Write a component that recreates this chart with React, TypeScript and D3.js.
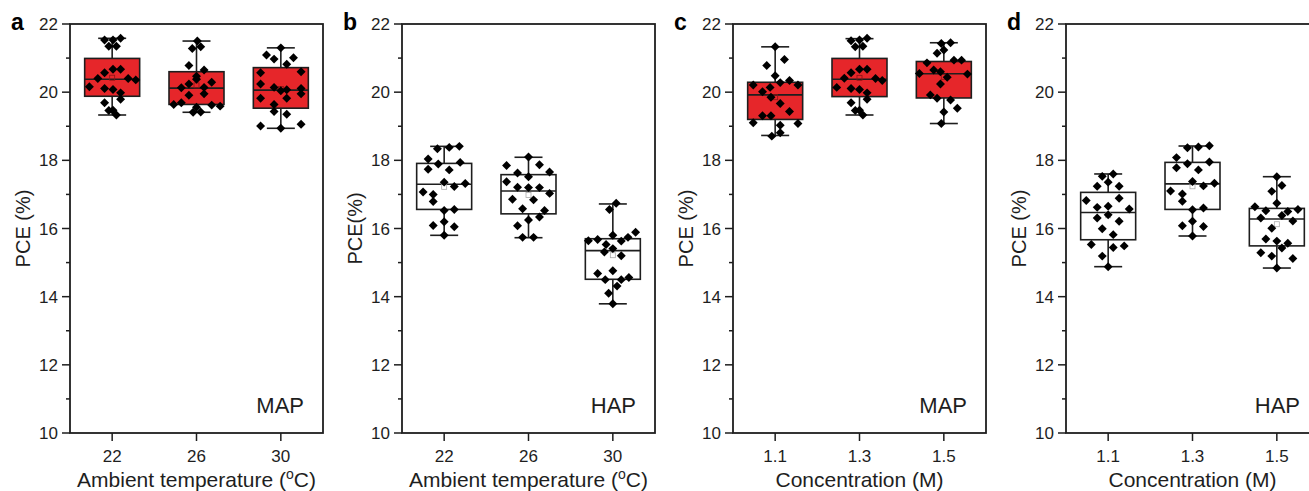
import React from "react";
import * as d3 from "d3";

// ---------- data ----------
const panelLetters = ["a", "b", "c", "d"];
const tempCategories = ["22", "26", "30"];
const concCategories = ["1.1", "1.3", "1.5"];
const yTickValues = [10, 12, 14, 16, 18, 20, 22];
const yMinorValues = [11, 13, 15, 17, 19, 21];
const phaseLabels = ["MAP", "HAP", "MAP", "HAP"];
const yTitles = ["PCE (%)", "PCE(%)", "PCE (%)", "PCE (%)"];

// points: [horizontal jitter in category units, PCE %]
const a1: [number, number][] = [[-0.09,21.53],[0.01,21.53],[0.10,21.58],[-0.04,21.35],[0.05,21.35],[-0.17,20.40],[-0.09,20.57],[0.01,20.67],[0.10,20.67],[-0.27,20.16],[-0.09,20.11],[0.01,20.08],[0.19,20.40],[0.28,20.36],[0.10,19.98],[0.10,19.79],[-0.09,19.69],[-0.04,19.46],[0.01,19.47],[0.05,19.33]];
const a2: [number, number][] = [[0.01,21.50],[-0.05,21.28],[0.05,21.33],[-0.09,20.78],[0.09,20.65],[0,20.47],[0,20.38],[-0.18,20.13],[-0.09,20.24],[0.09,20.14],[0.18,20.29],[-0.09,19.91],[0.09,19.95],[-0.27,19.64],[-0.18,19.69],[0.18,19.62],[0.28,19.59],[0,19.56],[-0.04,19.41],[0.05,19.42]];
const a3: [number, number][] = [[0,21.30],[-0.17,21.09],[-0.08,20.97],[0.07,20.82],[0.15,21.01],[-0.24,20.57],[0.24,20.60],[-0.24,20.24],[-0.08,20.14],[0,20.04],[0.07,20.07],[0.24,20.11],[-0.24,19.82],[-0.08,19.64],[0.07,19.82],[0.24,19.95],[-0.08,19.43],[0.07,19.35],[-0.24,19.01],[0,18.94],[0.24,19.06]];
const b1: [number, number][] = [[-0.08,18.34],[0.06,18.38],[0.18,18.41],[-0.19,18.04],[-0.19,17.74],[-0.07,17.89],[0.06,17.72],[0.19,17.94],[0,17.36],[0.12,17.23],[0.25,17.32],[-0.25,17.07],[-0.13,17.00],[-0.13,16.79],[0,16.53],[0.12,16.56],[-0.13,16.09],[0,16.20],[0.12,16.05],[0,15.80]];
const b2: [number, number][] = [[0,18.10],[-0.26,17.85],[0.13,17.87],[-0.13,17.63],[0,17.52],[0.25,17.66],[-0.26,17.37],[-0.13,17.21],[0,17.20],[0.13,17.20],[0.25,17.03],[-0.19,16.86],[0.06,16.84],[-0.07,16.58],[0.19,16.53],[0.13,16.34],[0,16.25],[-0.13,16.08],[-0.07,15.74],[0.06,15.74]];
const b3: [number, number][] = [[0.04,16.74],[-0.04,16.56],[0,15.80],[0.27,15.89],[0.18,15.74],[0.10,15.63],[-0.29,15.64],[-0.18,15.68],[-0.08,15.53],[0,15.41],[-0.10,15.31],[0.10,15.20],[0,14.76],[-0.18,14.68],[0.19,14.56],[-0.09,14.50],[0.10,14.50],[0.05,14.31],[-0.05,14.10],[0,13.79]];
const c1: [number, number][] = [[0,21.33],[-0.10,20.78],[0.11,20.96],[0,20.48],[-0.26,20.21],[-0.06,20.14],[0.06,20.28],[0.17,20.34],[0.27,20.21],[-0.15,20.01],[-0.05,19.85],[0.06,19.67],[0.17,19.43],[-0.15,19.31],[-0.05,19.31],[-0.26,19.10],[0.27,19.08],[0.06,19.03],[-0.04,18.71],[0.06,18.81]];
const c2: [number, number][] = [[-0.10,21.51],[0,21.53],[0.09,21.58],[-0.05,21.33],[0.04,21.35],[-0.18,20.41],[-0.10,20.57],[0,20.67],[0.09,20.67],[-0.27,20.14],[-0.10,20.11],[0,20.08],[0.19,20.40],[0.27,20.34],[0.09,19.98],[0.09,19.79],[-0.10,19.69],[-0.05,19.46],[0,19.47],[0.04,19.33]];
const c3: [number, number][] = [[-0.03,21.43],[0.08,21.45],[0,21.24],[-0.08,21.14],[-0.20,20.86],[0.12,20.94],[0.21,20.94],[-0.29,20.55],[-0.12,20.65],[-0.04,20.60],[0.04,20.44],[0.28,20.53],[-0.04,20.24],[-0.16,19.92],[-0.08,19.82],[0.08,19.77],[0,19.42],[0.16,19.53],[-0.03,19.08]];
const d1: [number, number][] = [[-0.07,17.53],[0.06,17.60],[-0.13,17.24],[0,17.36],[0.13,17.24],[-0.26,16.82],[0.13,16.89],[-0.13,16.62],[0,16.65],[0.25,16.57],[-0.13,16.31],[0,16.40],[0.13,16.21],[-0.07,15.99],[0.06,15.82],[-0.20,15.53],[0.06,15.44],[0.19,15.49],[-0.07,15.19],[0,14.88]];
const d2: [number, number][] = [[-0.06,18.37],[0.07,18.39],[0.20,18.43],[-0.19,18.08],[-0.06,17.90],[0.20,17.95],[-0.19,17.78],[0.07,17.72],[0,17.38],[0.13,17.25],[0.26,17.33],[-0.26,17.10],[-0.12,17.01],[-0.12,16.80],[0,16.55],[0.13,16.60],[0,16.21],[-0.12,16.08],[0.13,16.06],[0,15.78]];
const d3p: [number, number][] = [[0,17.52],[0.06,17.26],[-0.06,17.09],[0,16.74],[-0.26,16.64],[-0.13,16.52],[0.13,16.50],[0.25,16.56],[-0.19,16.31],[0.06,16.38],[0.19,16.22],[-0.06,16.01],[-0.13,15.69],[0,15.63],[0.13,15.57],[0.06,15.43],[-0.19,15.29],[-0.06,15.19],[0.19,15.12],[0,14.84]];

// box statistics: [whisker low, Q1, median, Q3, whisker high]
const boxA = [[19.33, 19.88, 20.38, 20.99, 21.58], [19.41, 19.64, 20.12, 20.60, 21.50], [18.94, 19.53, 20.06, 20.72, 21.30]];
const boxB = [[15.80, 16.56, 17.30, 17.91, 18.41], [15.73, 16.43, 17.10, 17.58, 18.09], [13.79, 14.51, 15.35, 15.70, 16.72]];
const boxC = [[18.73, 19.20, 19.92, 20.29, 21.33], [19.33, 19.87, 20.38, 20.99, 21.57], [19.08, 19.83, 20.54, 20.90, 21.45]];
const boxD = [[14.88, 15.67, 16.47, 17.06, 17.60], [15.78, 16.56, 17.31, 17.94, 18.42], [14.84, 15.49, 16.28, 16.59, 17.52]];

const pointsA = [a1, a2, a3];
const pointsB = [b1, b2, b3];
const pointsC = [c1, c2, c3];
const pointsD = [d1, d2, d3p];

// ---------- layout / style ----------
const W = 1309;
const H = 491;
const FONT = "'Liberation Sans', Arial, Helvetica, sans-serif";
const INK = "#1e1e1e";
const RED = "#e6262a";
const panelLefts = [70, 402, 733, 1066];
const PW = 253;
const TOP = 24;
const BOTTOM = 433;
const BOX_HALF = 0.326;
const CAP_HALF = 0.166;

const panels = [
  { cats: tempCategories, xTitle: "temp", boxes: boxA, pts: pointsA, filled: true },
  { cats: tempCategories, xTitle: "temp", boxes: boxB, pts: pointsB, filled: false },
  { cats: concCategories, xTitle: "Concentration (M)", boxes: boxC, pts: pointsC, filled: true },
  { cats: concCategories, xTitle: "Concentration (M)", boxes: boxD, pts: pointsD, filled: false },
];

const diamond = d3.symbol().type(d3.symbolSquare).size(40)();

function Panel({ idx }: { idx: number }) {
  const p = panels[idx];
  const left = panelLefts[idx];
  const x = d3.scaleLinear().domain([0.5, 3.5]).range([left, left + PW]);
  const y = d3.scaleLinear().domain([10, 22]).range([BOTTOM, TOP]);
  const midX = left + PW / 2;
  const midY = (TOP + BOTTOM) / 2;
  return (
    <g>
      {/* boxes */}
      {p.boxes.map((b, i) => {
        const cx = x(i + 1);
        const x0 = x(i + 1 - BOX_HALF);
        const x1 = x(i + 1 + BOX_HALF);
        const c0 = x(i + 1 - CAP_HALF);
        const c1x = x(i + 1 + CAP_HALF);
        const mean = d3.mean(p.pts[i], (d) => d[1]) as number;
        return (
          <g key={"b" + i}>
            <rect x={x0} y={y(b[3])} width={x1 - x0} height={y(b[1]) - y(b[3])}
              fill={p.filled ? RED : "#fff"} stroke={INK} strokeWidth={1.6} />
            <line x1={x0} x2={x1} y1={y(b[2])} y2={y(b[2])} stroke={INK} strokeWidth={1.6} />
            <line x1={cx} x2={cx} y1={y(b[3])} y2={y(b[4])} stroke={INK} strokeWidth={1.6} />
            <line x1={cx} x2={cx} y1={y(b[1])} y2={y(b[0])} stroke={INK} strokeWidth={1.6} />
            <line x1={c0} x2={c1x} y1={y(b[4])} y2={y(b[4])} stroke={INK} strokeWidth={1.6} />
            <line x1={c0} x2={c1x} y1={y(b[0])} y2={y(b[0])} stroke={INK} strokeWidth={1.6} />
            <rect x={cx - 2.5} y={y(mean) - 2.5} width={5} height={5} fill="none"
              stroke={p.filled ? "#8a1515" : "#aaa"} strokeWidth={0.8} />
          </g>
        );
      })}
      {/* points */}
      {p.pts.map((arr, i) =>
        arr.map((d, j) => (
          <path key={"p" + i + "-" + j} d={diamond as string}
            transform={`translate(${x(i + 1 + d[0])},${y(d[1])}) rotate(45)`} fill="#000" />
        ))
      )}
      {/* frame */}
      <rect x={left} y={TOP} width={PW} height={BOTTOM - TOP} fill="none" stroke={INK} strokeWidth={1.8} />
      {/* y ticks */}
      {yTickValues.map((v) => (
        <g key={"yt" + v}>
          <line x1={left - 8} x2={left} y1={y(v)} y2={y(v)} stroke={INK} strokeWidth={1.5} />
          <text x={left - 12} y={y(v) + 6} textAnchor="end" fontSize={17} fill={INK} fontFamily={FONT}>{v}</text>
        </g>
      ))}
      {yMinorValues.map((v) => (
        <line key={"ym" + v} x1={left - 4} x2={left} y1={y(v)} y2={y(v)} stroke={INK} strokeWidth={1.5} />
      ))}
      {/* x ticks */}
      {p.cats.map((c, i) => (
        <g key={"xt" + i}>
          <line x1={x(i + 1)} x2={x(i + 1)} y1={BOTTOM} y2={BOTTOM + 8} stroke={INK} strokeWidth={1.5} />
          <text x={x(i + 1)} y={BOTTOM + 29} textAnchor="middle" fontSize={17} fill={INK} fontFamily={FONT}>{c}</text>
        </g>
      ))}
      {/* x title */}
      {p.xTitle === "temp" ? (
        <text x={midX} y={487} textAnchor="middle" fontSize={21} fill={INK} fontFamily={FONT}>
          Ambient temperature (<tspan fontSize={14} dy={-8}>o</tspan><tspan dy={8}>C)</tspan>
        </text>
      ) : (
        <text x={midX} y={487} textAnchor="middle" fontSize={21} fill={INK} fontFamily={FONT}>{p.xTitle}</text>
      )}
      {/* y title */}
      <text transform={`translate(${left - 40},${midY}) rotate(-90)`} textAnchor="middle" fontSize={20}
        fill={INK} fontFamily={FONT}>{yTitles[idx]}</text>
      {/* panel letter */}
      <text x={left - 59} y={30} fontSize={23} fontWeight="bold" fill="#000" fontFamily={FONT}>{panelLetters[idx]}</text>
      {/* phase label */}
      <text x={left + PW - 19} y={413} textAnchor="end" fontSize={22} fill={INK} fontFamily={FONT}>{phaseLabels[idx]}</text>
    </g>
  );
}

export default function App() {
  return (
    <svg width={W} height={H} viewBox={`0 0 ${W} ${H}`}
      style={{ position: "absolute", left: 0, top: 0, background: "#fff" }}>
      <rect x={0} y={0} width={W} height={H} fill="#fff" />
      {panels.map((_, i) => (
        <Panel key={i} idx={i} />
      ))}
    </svg>
  );
}
